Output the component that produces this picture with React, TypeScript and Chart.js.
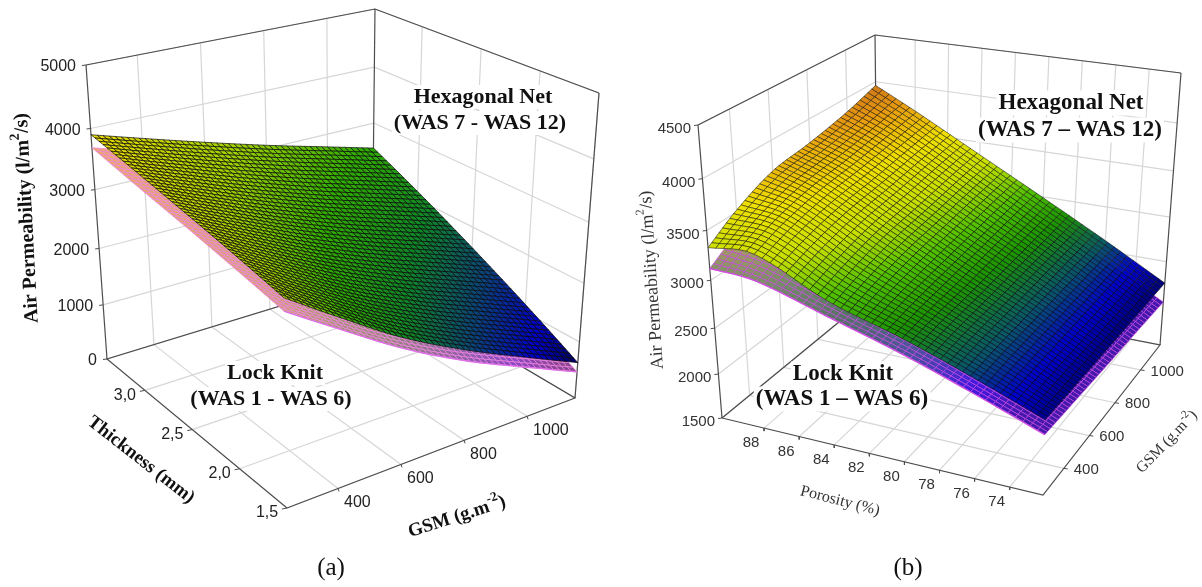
import React, { useEffect, useRef } from "react";
import { Chart, registerables } from "chart.js";

Chart.register(...registerables);

// ---------- data ----------
const gsmTicksA = [400, 600, 800, 1000];
const thicknessTicksA = [1.5, 2.0, 2.5, 3.0];
const airTicksA = [0, 1000, 2000, 3000, 4000, 5000];
const gsmNodesA = [238, 400, 600, 800, 1000, 1152];
const thicknessNodesA = [1.5, 2.0, 2.5, 3.0, 3.4];
// rows: thickness nodes, columns: GSM nodes
const hexagonalA = [
  [3300, 2760, 2100, 1540, 1030, 635],
  [3460, 3000, 2430, 1940, 1490, 1135],
  [3615, 3235, 2765, 2340, 1945, 1635],
  [3775, 3470, 3095, 2740, 2405, 2140],
  [3900, 3660, 3360, 3060, 2770, 2540],
];
const lockKnitA = [
  [3100, 2580, 1930, 1360, 860, 470],
  [3250, 2810, 2250, 1755, 1310, 965],
  [3400, 3030, 2575, 2150, 1765, 1460],
  [3550, 3260, 2900, 2545, 2215, 1955],
  [3690, 3450, 3160, 2860, 2580, 2350],
];

const porosityTicksB = [88, 86, 84, 82, 80, 78, 76, 74];
const gsmTicksB = [400, 600, 800, 1000];
const airTicksB = [1500, 2000, 2500, 3000, 3500, 4000, 4500];
const porosityNodesB = [90.4, 88, 84, 80, 76, 72.1];
const gsmNodesB = [238, 400, 600, 800, 1000, 1152];
// rows: GSM nodes, columns: porosity nodes
const hexagonalB = [
  [3330, 3360, 3030, 2810, 2560, 2300],
  [3520, 3470, 3120, 2850, 2580, 2290],
  [3690, 3560, 3210, 2880, 2590, 2280],
  [3755, 3610, 3260, 2920, 2600, 2270],
  [3850, 3680, 3320, 2960, 2610, 2260],
  [3960, 3740, 3360, 2990, 2620, 2250],
];
const lockKnitB = [
  [3120, 3090, 2870, 2650, 2400, 2145],
  [3300, 3200, 2920, 2680, 2400, 2125],
  [3470, 3300, 2980, 2700, 2400, 2100],
  [3530, 3370, 3030, 2720, 2400, 2075],
  [3630, 3440, 3080, 2740, 2395, 2050],
  [3730, 3510, 3130, 2760, 2390, 2025],
];

// ---------- panel geometry (3-D box on the page) ----------
type P = [number, number];
const panelA = {
  base: { c00: [287, 508] as P, c10: [575, 398] as P, c11: [372, 278] as P, c01: [107, 359] as P },
  top: { c00: [282, 178] as P, c10: [599, 93] as P, c11: [375, 9] as P, c01: [86, 65] as P },
  uRange: [238, 1152], vRange: [1.5, 3.4], zRange: [0, 5000], k: 0.1,
  wallU: 1, leftEdge: [0, 1], backEdge: [1, 1], rightEdge: [1, 0],
};
const panelB = {
  base: { c00: [722, 418] as P, c10: [1043, 495] as P, c11: [1160, 345] as P, c01: [878, 290] as P },
  top: { c00: [698, 125] as P, c10: [1052, 185] as P, c11: [1181, 73] as P, c01: [875, 35] as P },
  uRange: [90.4, 72.1], vRange: [238, 1152], zRange: [1500, 4500], k: 0.12,
  wallU: 0, leftEdge: [0, 0], backEdge: [0, 1], rightEdge: [1, 1],
};

const lerp = (a: number, b: number, t: number) => a + (b - a) * t;
function bil(c: any, u: number, v: number): P {
  const f = (i: number) => lerp(lerp(c.c00[i], c.c10[i], u), lerp(c.c01[i], c.c11[i], u), v);
  return [f(0), f(1)];
}
function proj(p: any, u: number, v: number, t: number): P {
  const b = bil(p.base, u, v), a = bil(p.top, u, v);
  return [lerp(b[0], a[0], t), lerp(b[1], a[1], t)];
}
const normU = (p: any, x: number) => (x - p.uRange[0]) / (p.uRange[1] - p.uRange[0]);
const normV = (p: any, x: number) => (x - p.vRange[0]) / (p.vRange[1] - p.vRange[0]);
function normZ(p: any, z: number) {
  const w = (z - p.zRange[0]) / (p.zRange[1] - p.zRange[0]);
  return w - p.k * w * (1 - w);
}
function point3(p: any, ux: number, vx: number, z: number) {
  const [x, y] = proj(p, normU(p, ux), normV(p, vx), normZ(p, z));
  return { x, y, z };
}

// Hermite curve through table nodes, used only to subdivide the table into the drawn mesh.
function curve(xs: number[], ys: number[], x: number) {
  const dir = xs[1] > xs[0] ? 1 : -1;
  let i = 0;
  while (i < xs.length - 2 && (x - xs[i + 1]) * dir > 0) i++;
  const tan = (j: number) => {
    const a = Math.max(0, j - 1), b = Math.min(xs.length - 1, j + 1);
    return (ys[b] - ys[a]) / (xs[b] - xs[a]);
  };
  const h = xs[i + 1] - xs[i], s = (x - xs[i]) / h;
  const s2 = s * s, s3 = s2 * s;
  return (2 * s3 - 3 * s2 + 1) * ys[i] + (s3 - 2 * s2 + s) * h * tan(i) + (-2 * s3 + 3 * s2) * ys[i + 1] + (s3 - s2) * h * tan(i + 1);
}
function meshPoints(p: any, uNodes: number[], vNodes: number[], table: number[][], nU: number, nV: number) {
  const pts: any[] = [];
  for (let j = 0; j <= nV; j++) {
    const vx = lerp(p.vRange[0], p.vRange[1], j / nV);
    const column = uNodes.map((_, c) => curve(vNodes, table.map((r) => r[c]), vx));
    for (let i = 0; i <= nU; i++) {
      const ux = lerp(p.uRange[0], p.uRange[1], i / nU);
      pts.push(point3(p, ux, vx, curve(uNodes, column, ux)));
    }
  }
  return pts;
}

// ---------- colour ramps ----------
type Stop = [number, number, number, number];
const rampA: Stop[] = [
  [635, 0, 0, 90], [1000, 0, 0, 205], [1500, 10, 70, 120], [2000, 16, 135, 40],
  [2600, 50, 175, 0], [3200, 160, 210, 0], [3900, 235, 220, 0],
];
const rampB: Stop[] = [
  [2250, 0, 0, 115], [2420, 0, 0, 205], [2620, 10, 90, 100], [2850, 30, 150, 0],
  [3050, 80, 192, 0], [3300, 200, 224, 0], [3550, 240, 224, 0], [3800, 232, 154, 16], [3960, 208, 120, 24],
];
function ramp(r: Stop[], z: number): [number, number, number] {
  if (z <= r[0][0]) return [r[0][1], r[0][2], r[0][3]];
  for (let i = 1; i < r.length; i++) {
    if (z <= r[i][0]) {
      const t = (z - r[i - 1][0]) / (r[i][0] - r[i - 1][0]);
      return [lerp(r[i - 1][1], r[i][1], t), lerp(r[i - 1][2], r[i][2], t), lerp(r[i - 1][3], r[i][3], t)];
    }
  }
  const l = r[r.length - 1];
  return [l[1], l[2], l[3]];
}

// ---------- plugin: fills the mesh cells from the points the chart has scaled ----------
const surfacePlugin = {
  id: "surface",
  afterDatasetDraw(chart: any, args: any) {
    const ds = chart.data.datasets[args.index];
    if (!ds.surface) return;
    const s = ds.surface;
    const els = chart.getDatasetMeta(args.index).data;
    const ctx = chart.ctx;
    const w = s.nU + 1;
    ctx.save();
    ctx.lineJoin = "round";
    ctx.lineWidth = s.lineWidth;
    ctx.strokeStyle = s.mesh;
    for (let j = s.nV - 1; j >= 0; j--) {
      for (let q = 0; q < s.nU; q++) {
        const i = s.flipU ? s.nU - 1 - q : q;
        const a = j * w + i, b = a + 1, c = a + w + 1, d = a + w;
        const z = (ds.data[a].z + ds.data[b].z + ds.data[c].z + ds.data[d].z) / 4;
        let col = ramp(s.ramp, z);
        if (s.mix) col = [lerp(col[0], s.mix[0], s.mix[3]), lerp(col[1], s.mix[1], s.mix[3]), lerp(col[2], s.mix[2], s.mix[3])];
        ctx.fillStyle = `rgb(${col[0] | 0},${col[1] | 0},${col[2] | 0})`;
        ctx.beginPath();
        ctx.moveTo(els[a].x, els[a].y);
        ctx.lineTo(els[b].x, els[b].y);
        ctx.lineTo(els[c].x, els[c].y);
        ctx.lineTo(els[d].x, els[d].y);
        ctx.closePath();
        ctx.fill();
        ctx.stroke();
      }
    }
    if (s.edge) {
      ctx.strokeStyle = s.edge;
      ctx.lineWidth = 1.4;
      ctx.beginPath();
      for (let i = 0; i < w; i++) i === 0 ? ctx.moveTo(els[i].x, els[i].y) : ctx.lineTo(els[i].x, els[i].y);
      ctx.stroke();
    }
    ctx.restore();
  },
};

// ---------- text ----------
type Seg = { t: string; sup?: boolean };
function rich(ctx: any, segs: Seg[], x: number, y: number, angle: number, weight: string, size: number, family: string, color: string) {
  const main = `${weight} ${size}px ${family}`;
  const small = `${weight} ${Math.round(size * 0.68)}px ${family}`;
  let total = 0;
  for (const s of segs) {
    ctx.font = s.sup ? small : main;
    total += ctx.measureText(s.t).width;
  }
  ctx.save();
  ctx.translate(x, y);
  ctx.rotate((angle * Math.PI) / 180);
  ctx.fillStyle = color;
  ctx.textBaseline = "middle";
  ctx.textAlign = "left";
  let cx = -total / 2;
  for (const s of segs) {
    ctx.font = s.sup ? small : main;
    ctx.fillText(s.t, cx, s.sup ? -size * 0.38 : 0);
    cx += ctx.measureText(s.t).width;
  }
  ctx.restore();
}
function label(ctx: any, t: string, x: number, y: number, align: string, font: string, color: string) {
  ctx.font = font;
  ctx.fillStyle = color;
  ctx.textAlign = align;
  ctx.textBaseline = "middle";
  ctx.fillText(t, x, y);
}
function note(ctx: any, lines: string[], xs: number[], ys: number[], size: number) {
  ctx.font = `bold ${size}px "Liberation Serif"`;
  lines.forEach((l, i) => {
    const w = ctx.measureText(l).width;
    ctx.fillStyle = "#ffffff";
    ctx.fillRect(xs[i] - w / 2 - 2, ys[i] - size / 2 - 1, w + 4, size + 2);
  });
  lines.forEach((l, i) => label(ctx, l, xs[i], ys[i], "center", `bold ${size}px "Liberation Serif"`, "#111"));
}
const SANS = '"Liberation Sans"';
const SERIF = '"Liberation Serif"';

const textPlugin = {
  id: "chartText",
  afterDatasetsDraw(chart: any) {
    const ctx = chart.ctx;
    const X = chart.scales.x, Y = chart.scales.y;
    const at = (q: any) => [X.getPixelForValue(q.x), Y.getPixelForValue(q.y)];
    ctx.save();
    // panel (a)
    const fa = `16px ${SANS}`;
    const ca = "#222";
    airTicksA.forEach((z) => {
      const [x, y] = at(point3(panelA, 238, 3.4, z));
      label(ctx, String(z), x - 10, y + 2, "right", fa, ca);
    });
    thicknessTicksA.forEach((t) => {
      const [x, y] = at(point3(panelA, 238, t, 0));
      label(ctx, t.toFixed(1).replace(".", ","), x - 20, y + 5, "center", fa, ca);
    });
    gsmTicksA.forEach((g) => {
      const [x, y] = at(point3(panelA, g, 1.5, 0));
      label(ctx, String(g), x + 6, y + 14, "left", fa, ca);
    });
    rich(ctx, [{ t: "Air Permeability (l/m" }, { t: "2", sup: true }, { t: "/s)" }], 27, 218, -93, "bold", 20, SERIF, "#111");
    rich(ctx, [{ t: "Thickness (mm)" }], 141, 460, 38, "bold", 19, SERIF, "#111");
    rich(ctx, [{ t: "GSM (g.m" }, { t: "-2", sup: true }, { t: ")" }], 457, 517, -18, "bold", 19, SERIF, "#111");
    note(ctx, ["Hexagonal Net", "(WAS 7 - WAS 12)"], [483, 480], [97, 123], 22);
    note(ctx, ["Lock Knit", "(WAS 1 - WAS 6)"], [275, 271], [373, 399], 22);
    label(ctx, "(a)", 331, 568, "center", `25px ${SERIF}`, "#111");

    // panel (b)
    const fb = `15px ${SANS}`;
    const cb = "#333";
    airTicksB.forEach((z) => {
      const [x, y] = at(point3(panelB, 90.4, 238, z));
      label(ctx, String(z), x - 7, y + 4, "right", fb, cb);
    });
    porosityTicksB.forEach((q) => {
      const [x, y] = at(point3(panelB, q, 238, 1500));
      label(ctx, String(q), x - 13, y + 15, "center", fb, cb);
    });
    gsmTicksB.forEach((g) => {
      const [x, y] = at(point3(panelB, 72.1, g, 1500));
      label(ctx, String(g), x + 10, y + 1.5, "left", fb, cb);
    });
    rich(ctx, [{ t: "Air Permeability (l/m" }, { t: "2", sup: true }, { t: "/s)" }], 652, 280, -94, "normal", 18, SERIF, "#333");
    rich(ctx, [{ t: "Porosity (%)" }], 840, 501, 14.5, "normal", 16, SERIF, "#333");
    rich(ctx, [{ t: "GSM (g.m" }, { t: "-2", sup: true }, { t: ")" }], 1167, 442, -46, "normal", 15.5, SERIF, "#333");
    note(ctx, ["Hexagonal Net", "(WAS 7 \u2013 WAS 12)"], [1071, 1070], [103, 130], 23);
    note(ctx, ["Lock Knit", "(WAS 1 \u2013 WAS 6)"], [843, 842], [374, 399], 23);
    label(ctx, "(b)", 908, 568, "center", `25px ${SERIF}`, "#111");
    ctx.restore();
  },
};

// ---------- datasets ----------
function seg(data: any[], color: string, width: number, order: number) {
  return { type: "scatter", data, showLine: true, borderColor: color, borderWidth: width, pointRadius: 0, fill: false, order };
}
function frame(p: any, uTicks: number[], vTicks: number[], zTicks: number[]) {
  const out: any[] = [];
  const G = "#d6d6d6", B = "#4d4d4d";
  const pt = (u: number, v: number, t: number) => {
    const [x, y] = proj(p, u, v, t);
    return { x, y };
  };
  uTicks.map((x) => normU(p, x)).forEach((u) => {
    out.push(seg([pt(u, 1, 0), pt(u, 1, 1)], G, 1.2, 20));
    out.push(seg([pt(u, 0, 0), pt(u, 1, 0)], G, 1.2, 20));
  });
  vTicks.map((x) => normV(p, x)).forEach((v) => {
    out.push(seg([pt(p.wallU, v, 0), pt(p.wallU, v, 1)], G, 1.2, 20));
    out.push(seg([pt(0, v, 0), pt(1, v, 0)], G, 1.2, 20));
  });
  zTicks.map((z) => normZ(p, z)).forEach((t) => {
    out.push(seg([pt(0, 1, t), pt(1, 1, t)], G, 1.2, 20));
    out.push(seg([pt(p.wallU, 0, t), pt(p.wallU, 1, t)], G, 1.2, 20));
  });
  const [lu, lv] = p.leftEdge, [bu, bv] = p.backEdge, [ru, rv] = p.rightEdge;
  [[lu, lv], [bu, bv], [ru, rv]].forEach(([u, v]) => out.push(seg([pt(u, v, 0), pt(u, v, 1)], B, 1.2, 15)));
  out.push(seg([pt(lu, lv, 1), pt(bu, bv, 1), pt(ru, rv, 1)], B, 1.2, 15));
  out.push(seg([pt(0, 0, 0), pt(1, 0, 0), pt(1, 1, 0), pt(0, 1, 0), pt(0, 0, 0)], B, 1.2, 15));
  return out;
}
function ticks(p: any, fixed: (x: number) => [number, number, number], values: number[], dx: number, dy: number) {
  return values.map((x) => {
    const [u, v, t] = fixed(x);
    const [a, b] = proj(p, u, v, t);
    return seg([{ x: a, y: b }, { x: a + dx, y: b + dy }], "#4d4d4d", 1, 15);
  });
}
function surface(data: any[], order: number, opts: any) {
  return { type: "scatter", data, showLine: false, pointRadius: 0, order, surface: opts };
}

const NA_U = 48, NA_V = 48, NB_U = 44, NB_V = 44;

function buildDatasets() {
  return [
    ...frame(panelA, gsmTicksA, thicknessTicksA, airTicksA),
    ...ticks(panelA, (z) => [0, 1, normZ(panelA, z)], airTicksA, -4, 0.5),
    ...ticks(panelA, (t) => [0, normV(panelA, t), 0], thicknessTicksA, -5, 1),
    ...ticks(panelA, (g) => [normU(panelA, g), 0, 0], gsmTicksA, 1, 3),
    surface(meshPoints(panelA, gsmNodesA, thicknessNodesA, lockKnitA, NA_U, NA_V), 5, {
      nU: NA_U, nV: NA_V, flipU: true, ramp: rampA, mix: [255, 130, 190, 0.55], mesh: "rgba(240,130,225,0.9)", lineWidth: 0.8, edge: "#e070ea",
    }),
    surface(meshPoints(panelA, gsmNodesA, thicknessNodesA, hexagonalA, NA_U, NA_V), 4, {
      nU: NA_U, nV: NA_V, flipU: true, ramp: rampA, mesh: "rgba(10,10,10,0.82)", lineWidth: 0.85,
    }),
    ...frame(panelB, porosityTicksB, gsmTicksB, airTicksB),
    ...ticks(panelB, (z) => [0, 0, normZ(panelB, z)], airTicksB, -4, 0.5),
    ...ticks(panelB, (q) => [normU(panelB, q), 0, 0], porosityTicksB, 0, 3),
    ...ticks(panelB, (g) => [1, normV(panelB, g), 0], gsmTicksB, 4, 0.5),
    surface(meshPoints(panelB, porosityNodesB, gsmNodesB, lockKnitB, NB_U, NB_V), 5, {
      nU: NB_U, nV: NB_V, flipU: false, ramp: rampB, mix: [170, 60, 255, 0.4], mesh: "rgba(200,70,225,0.85)", lineWidth: 0.8, edge: "#d050e0",
    }),
    surface(meshPoints(panelB, porosityNodesB, gsmNodesB, hexagonalB, NB_U, NB_V), 4, {
      nU: NB_U, nV: NB_V, flipU: false, ramp: rampB, mesh: "rgba(10,10,10,0.72)", lineWidth: 0.7,
    }),
  ];
}

export default function App() {
  const ref = useRef<HTMLCanvasElement | null>(null);
  useEffect(() => {
    const chart = new Chart(ref.current as any, {
      type: "scatter",
      data: { datasets: buildDatasets() as any },
      plugins: [surfacePlugin, textPlugin],
      options: {
        responsive: false,
        animation: false,
        events: [],
        layout: { padding: 0 },
        plugins: { legend: { display: false }, tooltip: { enabled: false } },
        scales: {
          x: { type: "linear", display: false, min: 0, max: 1202 },
          y: { type: "linear", display: false, min: 0, max: 587, reverse: true },
        },
      } as any,
    });
    return () => chart.destroy();
  }, []);
  return (
    <div style={{ position: "absolute", left: 0, top: 0, width: 1202, height: 587, background: "#fff" }}>
      <canvas ref={ref} width={1202} height={587} style={{ display: "block" }} />
    </div>
  );
}
